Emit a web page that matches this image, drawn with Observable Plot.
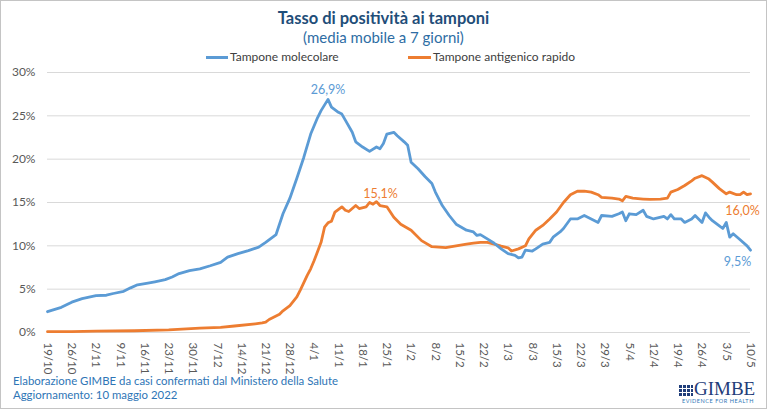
<!DOCTYPE html>
<html>
<head>
<meta charset="utf-8">
<script src="https://cdn.jsdelivr.net/npm/d3@7"></script>
<script src="https://cdn.jsdelivr.net/npm/@observablehq/plot@0.6"></script>
<style>
  html, body { margin: 0; padding: 0; background: #fff; }
  #page { position: relative; width: 767px; height: 409px; overflow: hidden; font-family: Lato, "Open Sans", sans-serif; }
  #chart { position: absolute; left: 0; top: 0; }
  .abs { position: absolute; white-space: nowrap; }
  #frame { position: absolute; left: 0; top: 0; width: 767px; height: 409px; box-sizing: border-box; border: 1px solid #c4c4c4; pointer-events: none; }
  .sw { position: absolute; height: 3px; }
</style>
</head>
<body>
<div id="page">
  <div id="chart"></div>
  <div class="abs" id="title" style="left:0;width:767px;top:8px;text-align:center;font-weight:700;font-size:16.5px;line-height:20px;color:#1F4E79;">Tasso di positività ai tamponi</div>
  <div class="abs" id="subtitle" style="left:0;width:767px;top:28px;text-align:center;font-size:15px;line-height:18px;color:#2E6DA4;">(media mobile a 7 giorni)</div>
  <div class="sw" style="left:206px;top:56px;width:22px;background:#5B9BD5;"></div>
  <div class="abs" style="left:230px;top:50px;font-size:12px;line-height:14px;color:#404040;">Tampone molecolare</div>
  <div class="sw" style="left:408px;top:56px;width:23px;background:#ED7D31;"></div>
  <div class="abs" style="left:433px;top:50px;font-size:12px;line-height:14px;color:#404040;">Tampone antigenico rapido</div>
  <div class="abs" style="left:13px;top:374px;font-size:11.4px;line-height:14px;color:#2E75B6;">Elaborazione GIMBE da casi confermati dal Ministero della Salute</div>
  <div class="abs" style="left:13px;top:388px;font-size:11.4px;line-height:14px;color:#2E75B6;">Aggiornamento: 10 maggio 2022</div>
  <div class="abs" style="left:679px;top:385px;width:14px;height:11px;background:#1F3D7A;background-image:repeating-linear-gradient(90deg, transparent 0 3px, #fff 3px 4px),repeating-linear-gradient(0deg, transparent 0 3px, #fff 3px 4px);"></div>
  <div class="abs" style="left:694px;top:379px;font-family:'Liberation Serif',serif;font-size:19px;line-height:20px;color:#1F3D7A;">GIMBE</div>
  <div class="abs" style="left:682px;top:398px;font-size:5.5px;line-height:7px;letter-spacing:0.55px;color:#2E75B6;">EVIDENCE FOR HEALTH</div>
  <div id="frame"></div>
</div>
<script>
// ---- Data (percent values) ----
const molDates = [
  "2021-10-19","2021-10-23","2021-10-26","2021-10-29","2021-11-02","2021-11-05","2021-11-07","2021-11-10",
  "2021-11-12","2021-11-14","2021-11-17","2021-11-19","2021-11-22","2021-11-24","2021-11-26","2021-11-29",
  "2021-12-02","2021-12-05","2021-12-08","2021-12-10","2021-12-13","2021-12-16","2021-12-19","2021-12-21",
  "2021-12-24","2021-12-26","2021-12-28","2021-12-30","2022-01-01","2022-01-03","2022-01-05","2022-01-06",
  "2022-01-08","2022-01-09","2022-01-11","2022-01-12","2022-01-13","2022-01-15","2022-01-16","2022-01-18",
  "2022-01-20","2022-01-22","2022-01-23","2022-01-24","2022-01-25","2022-01-27","2022-01-28","2022-01-30",
  "2022-01-31","2022-02-01","2022-02-03","2022-02-05","2022-02-07","2022-02-08","2022-02-10","2022-02-12",
  "2022-02-14","2022-02-17","2022-02-19","2022-02-20","2022-02-21","2022-02-23","2022-02-25","2022-02-27",
  "2022-03-01","2022-03-03","2022-03-04","2022-03-05","2022-03-06","2022-03-08","2022-03-09","2022-03-11",
  "2022-03-13","2022-03-14","2022-03-16","2022-03-17","2022-03-19","2022-03-21","2022-03-23","2022-03-25",
  "2022-03-27","2022-03-28","2022-03-31","2022-04-02","2022-04-03","2022-04-04","2022-04-05","2022-04-07",
  "2022-04-09","2022-04-10","2022-04-12","2022-04-15","2022-04-16","2022-04-17","2022-04-18","2022-04-20",
  "2022-04-21","2022-04-23","2022-04-24","2022-04-26","2022-04-27","2022-04-28","2022-04-29","2022-05-01",
  "2022-05-02","2022-05-03","2022-05-04","2022-05-05","2022-05-07","2022-05-09","2022-05-10"
];
const molValues = [
  2.4, 2.9, 3.5, 3.9, 4.25, 4.3, 4.5, 4.75,
  5.15, 5.5, 5.7, 5.85, 6.1, 6.4, 6.8, 7.15,
  7.35, 7.7, 8.1, 8.7, 9.1, 9.45, 9.85, 10.4,
  11.3, 13.7, 15.5, 17.8, 20.2, 22.9, 24.8, 25.6,
  26.9, 26.0, 25.4, 25.2, 24.5, 23.1, 22.0, 21.4,
  20.9, 21.4, 21.2, 21.8, 22.9, 23.1, 22.7, 22.0,
  21.6, 19.65, 18.9, 18.0, 17.2, 16.2, 14.65, 13.5,
  12.5, 11.8, 11.6, 11.2, 11.3, 10.8, 10.3, 9.65,
  9.1, 8.9, 8.6, 8.7, 9.5, 9.4, 9.65, 10.2,
  10.4, 11.0, 11.6, 12.0, 13.1, 13.1, 13.5, 13.1,
  12.7, 13.5, 13.4, 13.7, 13.9, 12.9, 13.7, 13.6,
  14.1, 13.4, 13.1, 13.4, 13.1, 13.6, 13.1, 13.1,
  12.7, 13.1, 13.5, 12.7, 13.8, 13.3, 12.9, 12.3,
  12.0, 12.7, 11.0, 11.4, 10.7, 10.0, 9.5
];
const antDates = [
  "2021-10-19","2021-10-26","2021-11-02","2021-11-13","2021-11-23","2021-12-02","2021-12-08","2021-12-12",
  "2021-12-18","2021-12-20","2021-12-21","2021-12-22","2021-12-24","2021-12-25","2021-12-26","2021-12-28",
  "2021-12-30","2021-12-31","2022-01-02","2022-01-03","2022-01-04","2022-01-06","2022-01-07","2022-01-08",
  "2022-01-09","2022-01-10","2022-01-12","2022-01-13","2022-01-14","2022-01-16","2022-01-17","2022-01-19",
  "2022-01-20","2022-01-21","2022-01-22","2022-01-23","2022-01-25","2022-01-26","2022-01-27","2022-01-29",
  "2022-02-01","2022-02-04","2022-02-07","2022-02-09","2022-02-11","2022-02-14","2022-02-17","2022-02-19",
  "2022-02-21","2022-02-23","2022-02-25","2022-02-27","2022-03-01","2022-03-02","2022-03-04","2022-03-06",
  "2022-03-07","2022-03-09","2022-03-11","2022-03-13","2022-03-15","2022-03-17","2022-03-19","2022-03-21",
  "2022-03-23","2022-03-25","2022-03-27","2022-03-28","2022-03-31","2022-04-02","2022-04-03","2022-04-04",
  "2022-04-06","2022-04-09","2022-04-11","2022-04-14","2022-04-16","2022-04-17","2022-04-19","2022-04-21",
  "2022-04-23","2022-04-24","2022-04-26","2022-04-28","2022-04-29","2022-05-01","2022-05-03","2022-05-04",
  "2022-05-06","2022-05-07","2022-05-08","2022-05-09","2022-05-10"
];
const antValues = [
  0.1, 0.1, 0.15, 0.2, 0.3, 0.5, 0.6, 0.75,
  1.0, 1.1, 1.2, 1.5, 1.9, 2.1, 2.5, 3.1,
  4.1, 4.9, 6.6, 7.35, 8.3, 10.4, 12.15, 12.65,
  12.85, 13.9, 14.5, 14.1, 13.96, 14.65, 14.3, 14.5,
  15.0, 14.8, 15.1, 14.65, 14.5, 13.9, 13.3, 12.5,
  11.8, 10.6, 9.9, 9.85, 9.8, 10.0, 10.2, 10.3,
  10.4, 10.4, 10.2, 9.96, 9.77, 9.4, 9.65, 10.0,
  10.8, 11.8, 12.35, 13.1, 13.9, 15.0, 15.9, 16.3,
  16.3, 16.2, 15.9, 15.6, 15.5, 15.4, 15.2, 15.7,
  15.5, 15.4, 15.35, 15.4, 15.5, 16.2, 16.5, 16.96,
  17.5, 17.8, 18.1, 17.7, 17.35, 16.6, 16.0, 16.2,
  15.9, 15.9, 16.2, 15.9, 16.0
];
const xTickDates = [
  "2021-10-19","2021-10-26","2021-11-02","2021-11-09","2021-11-16","2021-11-23","2021-11-30","2021-12-07",
  "2021-12-14","2021-12-21","2021-12-28","2022-01-04","2022-01-11","2022-01-18","2022-01-25","2022-02-01",
  "2022-02-08","2022-02-15","2022-02-22","2022-03-01","2022-03-08","2022-03-15","2022-03-22","2022-03-29",
  "2022-04-05","2022-04-12","2022-04-19","2022-04-26","2022-05-03","2022-05-10"
];
const yTicks = [0, 5, 10, 15, 20, 25, 30];

const BLUE = "#5B9BD5", ORANGE = "#ED7D31";
const mol = molDates.map((d, i) => ({date: new Date(d), value: molValues[i]}));
const ant = antDates.map((d, i) => ({date: new Date(d), value: antValues[i]}));
const fmt = v => v.toFixed(1).replace(".", ",") + "%";

const molPeak = mol.reduce((a, b) => (b.value > a.value ? b : a));
const molLast = mol[mol.length - 1];
const antJan = ant.filter(d => d.date < new Date("2022-02-01"));
const antPeak = antJan.reduce((a, b) => (b.value > a.value ? b : a));
const antLast = ant[ant.length - 1];

const ticks = xTickDates.map(d => new Date(d));

const chart = Plot.plot({
  width: 767,
  height: 409,
  marginLeft: 47,
  marginRight: 17,
  marginTop: 72,
  marginBottom: 77,
  style: {fontFamily: "Lato, 'Open Sans', sans-serif", fontSize: "12px", color: "#595959", background: "transparent"},
  x: {type: "utc", domain: [ticks[0], ticks[ticks.length - 1]]},
  y: {domain: [0, 30]},
  marks: [
    Plot.gridY(yTicks, {stroke: "#d9d9d9", strokeOpacity: 1, strokeWidth: 1}),
    Plot.axisY({ticks: yTicks, tickFormat: d => d + "%", tickSize: 0, tickPadding: 12, label: null, fontSize: 12}),
    Plot.axisX({ticks: ticks, tickFormat: d => `${d.getUTCDate()}/${d.getUTCMonth() + 1}`, tickRotate: 90, tickSize: 0, tickPadding: 10, label: null, fontSize: 11.5}),
    Plot.line(ant, {x: "date", y: "value", stroke: ORANGE, strokeWidth: 2.8, strokeLinejoin: "round"}),
    Plot.line(mol, {x: "date", y: "value", stroke: BLUE, strokeWidth: 2.8, strokeLinejoin: "round"}),
    Plot.text([molPeak], {x: "date", y: "value", text: d => fmt(d.value), fill: BLUE, dy: -9, dx: 0, fontSize: 12.5}),
    Plot.text([antPeak], {x: "date", y: "value", text: d => fmt(d.value), fill: ORANGE, dy: -8, dx: 4, fontSize: 12.5}),
    Plot.text([antLast], {x: "date", y: "value", text: d => fmt(d.value), fill: ORANGE, dy: 17, dx: -8, fontSize: 12.5}),
    Plot.text([molLast], {x: "date", y: "value", text: d => fmt(d.value), fill: BLUE, dy: 12, dx: -13, fontSize: 12.5})
  ]
});
document.getElementById("chart").appendChild(chart);
</script>
</body>
</html>
